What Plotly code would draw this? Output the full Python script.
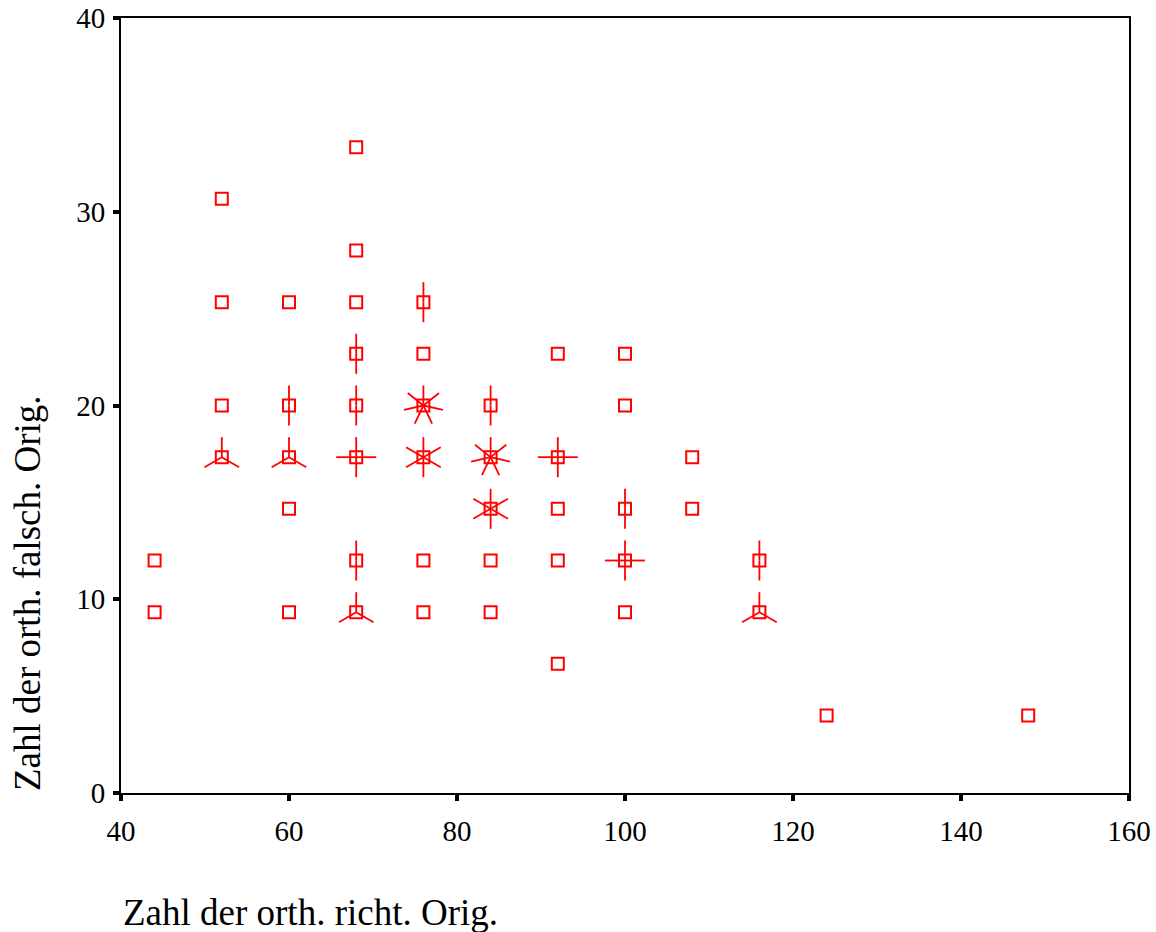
import math
import plotly.graph_objects as go

# Sunflower plot data: cell centres and number of cases per cell
x_vals = [44, 44,
          52, 52, 52, 52,
          60, 60, 60, 60, 60,
          68, 68, 68, 68, 68, 68, 68, 68,
          76, 76, 76, 76, 76, 76,
          84, 84, 84, 84, 84,
          92, 92, 92, 92, 92,
          100, 100, 100, 100, 100,
          108, 108,
          116, 116,
          124, 148]
y_vals = [12, 9.333,
          30.667, 25.333, 20, 17.333,
          25.333, 20, 17.333, 14.667, 9.333,
          33.333, 28, 25.333, 22.667, 20, 17.333, 12, 9.333,
          25.333, 22.667, 20, 17.333, 12, 9.333,
          20, 17.333, 14.667, 12, 9.333,
          22.667, 17.333, 14.667, 12, 6.667,
          22.667, 20, 14.667, 12, 9.333,
          17.333, 14.667,
          12, 9.333,
          4, 4]
counts = [1, 1,
          1, 1, 1, 3,
          1, 2, 3, 1, 1,
          1, 1, 1, 2, 2, 4, 2, 3,
          2, 1, 7, 6, 1, 1,
          2, 7, 6, 1, 1,
          1, 4, 1, 1, 1,
          1, 1, 2, 4, 1,
          1, 1,
          2, 3,
          1, 1]

x_ticks = [40, 60, 80, 100, 120, 140, 160]
y_ticks = [0, 10, 20, 30, 40]

RED = "#FF0000"
PETAL_PX = 20

fig = go.Figure()
fig.add_trace(go.Scatter(
    x=x_vals, y=y_vals, mode="markers",
    marker=dict(symbol="square-open", size=12, color=RED, line=dict(width=2, color=RED)),
    hoverinfo="x+y+text", text=[f"n={c}" for c in counts], showlegend=False,
    cliponaxis=False,
))

shapes = []
for xv, yv, n in zip(x_vals, y_vals, counts):
    if n < 2:
        continue
    for k in range(n):
        ang = math.radians(90 + k * 360.0 / n)
        shapes.append(dict(
            type="line", xref="x", yref="y",
            xsizemode="pixel", ysizemode="pixel",
            xanchor=xv, yanchor=yv,
            x0=0, y0=0,
            x1=PETAL_PX * math.cos(ang), y1=PETAL_PX * math.sin(ang),
            line=dict(color=RED, width=1.8),
        ))

FONT = "Liberation Serif, Times New Roman, serif"

fig.update_layout(
    width=1156, height=932, autosize=False,
    margin=dict(l=121, r=27, t=18, b=139, autoexpand=False),
    paper_bgcolor="white", plot_bgcolor="white",
    font=dict(family=FONT, color="black", size=29),
    shapes=shapes,
    xaxis=dict(
        range=[40, 160], tickvals=x_ticks, ticks="outside", ticklen=6, tickwidth=4,
        tickcolor="black", showline=True, linewidth=2, linecolor="black", mirror=True,
        showgrid=False, zeroline=False, ticklabelstandoff=5, automargin=False,
        tickfont=dict(family=FONT, size=29, color="black"),
    ),
    yaxis=dict(
        range=[0, 40], tickvals=y_ticks, ticks="outside", ticklen=6, tickwidth=4,
        tickcolor="black", showline=True, linewidth=2, linecolor="black", mirror=True,
        showgrid=False, zeroline=False, ticklabelstandoff=2, automargin=False,
        tickfont=dict(family=FONT, size=29, color="black"),
    ),
    annotations=[
        dict(text="Zahl der orth. richt. Orig.", xref="paper", yref="paper",
             x=0, y=-119 / 775, xanchor="left", yanchor="middle", showarrow=False,
             font=dict(family=FONT, size=37, color="black")),
        dict(text="Zahl der orth. falsch. Orig.", xref="paper", yref="paper",
             x=(27 - 121) / 1008, y=0, xanchor="center", yanchor="bottom",
             textangle=-90, showarrow=False,
             font=dict(family=FONT, size=37, color="black")),
    ],
)

fig.write_html("out.html")
